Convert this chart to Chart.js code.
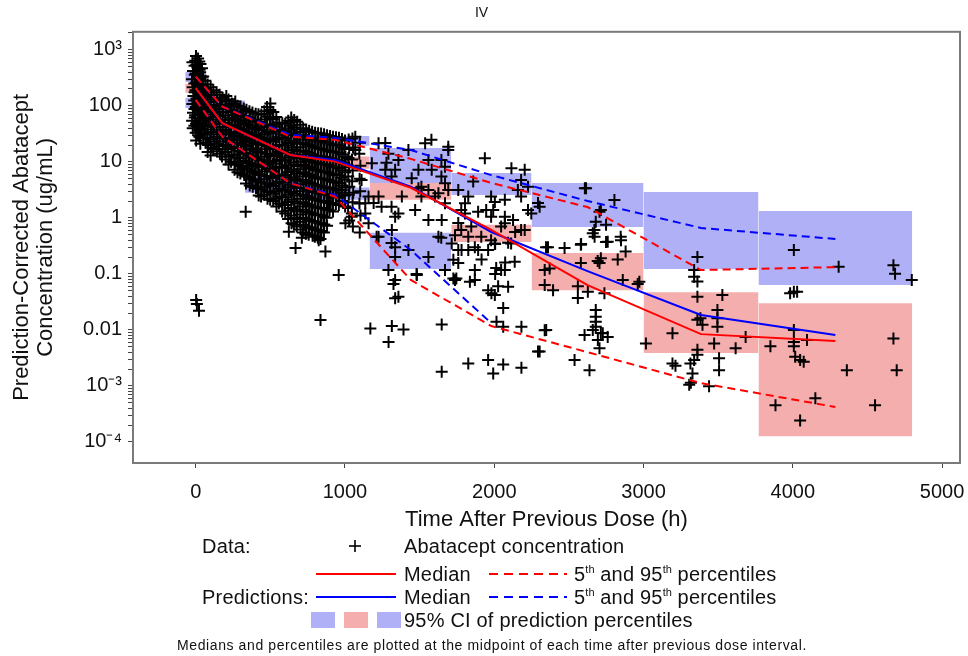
<!DOCTYPE html>
<html>
<head>
<meta charset="utf-8">
<script src="https://cdn.jsdelivr.net/npm/chart.js@4.4.1/dist/chart.umd.min.js"></script>
<style>
  body { margin: 0; background: #fff; }
  #wrap { position: relative; width: 968px; height: 656px; font-family: "Liberation Sans", Arial, sans-serif; color: #111; }
  #chart { position: absolute; left: 0; top: 0; }
  .lg { position: absolute; font-size: 20px; line-height: 22px; white-space: nowrap; letter-spacing: 0.2px; }
  .lg sup { font-size: 11px; line-height: 0; vertical-align: 8px; letter-spacing: 0; }
  .note { position: absolute; font-size: 14px; line-height: 16px; white-space: nowrap; letter-spacing: 0.6px; }
  .sw { position: absolute; width: 24px; height: 16px; }
  svg.key { position: absolute; overflow: visible; }
</style>
</head>
<body>
<div id="wrap">
  <canvas id="chart" width="968" height="656"></canvas>

  <!-- legend -->
  <div class="lg" style="left:202px; top:535px;">Data:</div>
  <svg class="key" style="left:349px; top:540px;" width="12" height="12">
    <line x1="6" y1="0" x2="6" y2="12" stroke="#000" stroke-width="1.6"/>
    <line x1="0" y1="6" x2="12" y2="6" stroke="#000" stroke-width="1.6"/>
  </svg>
  <div class="lg" style="left:404px; top:535px;">Abatacept concentration</div>

  <svg class="key" style="left:316px; top:573px;" width="80" height="2">
    <line x1="0" y1="1" x2="80" y2="1" stroke="#ff0000" stroke-width="2"/>
  </svg>
  <div class="lg" style="left:404px; top:563px;">Median</div>
  <svg class="key" style="left:489px; top:573px;" width="78" height="2">
    <line x1="0" y1="1" x2="78" y2="1" stroke="#ff0000" stroke-width="2" stroke-dasharray="9,6"/>
  </svg>
  <div class="lg" style="left:574px; top:563px;">5<sup>th</sup> and 95<sup>th</sup> percentiles</div>

  <div class="lg" style="left:202px; top:586px;">Predictions:</div>
  <svg class="key" style="left:316px; top:596px;" width="80" height="2">
    <line x1="0" y1="1" x2="80" y2="1" stroke="#0000ff" stroke-width="2"/>
  </svg>
  <div class="lg" style="left:404px; top:586px;">Median</div>
  <svg class="key" style="left:489px; top:596px;" width="78" height="2">
    <line x1="0" y1="1" x2="78" y2="1" stroke="#0000ff" stroke-width="2" stroke-dasharray="9,6"/>
  </svg>
  <div class="lg" style="left:574px; top:586px;">5<sup>th</sup> and 95<sup>th</sup> percentiles</div>

  <div class="sw" style="left:311px; top:612px; background:#b0b0f6;"></div>
  <div class="sw" style="left:344px; top:612px; background:#f5aeae;"></div>
  <div class="sw" style="left:377px; top:612px; background:#b0b0f6;"></div>
  <div class="lg" style="left:404px; top:609px;">95% CI of prediction percentiles</div>

  <div class="note" style="left:177px; top:637px;">Medians and percentiles are plotted at the midpoint of each time after previous dose interval.</div>
</div>

<script>
// axis ticks
const xTicks = [0, 1000, 2000, 3000, 4000, 5000];
const yMajor = [1e-4, 1e-3, 0.01, 0.1, 1, 10, 100, 1000];
const yLabels = ['10⁻⁴', '10⁻³', '0.01', '0.1', '1', '10', '100', '10³'];
const yMinorMult = [2, 3, 4, 5, 6, 7, 8, 9];

// midpoints of the time-after-dose bins (h)
const binMid = [0, 178, 634, 934, 1441, 1980, 2625, 3385, 4285];
const obsMedian = [207, 49, 13.3, 10.1, 3.45, 0.61, 0.063, 0.0084, 0.0063];
const obsP95 = [333, 97, 28.2, 24.7, 11.3, 4.2, 1.56, 0.117, 0.132];
const obsP05 = [128, 28.2, 4.15, 2.39, 0.078, 0.0117, 0.004, 0.00112, 0.00042];
const predMedian = [207, 49, 13.3, 10.8, 3.6, 0.56, 0.112, 0.0184, 0.0081];
const predP95 = [333, 97, 30.3, 26.8, 16.3, 5.8, 2.0, 0.66, 0.42];
const predP05 = [128, 28.2, 4.15, 2.56, 0.267, 0.0132, null, null, null];

// bins and 95% CI of predicted percentiles
const binStart = [-70, 70, 330, 700, 1165, 1712, 2250, 3000, 3770];
const binEnd = [70, 330, 700, 1165, 1712, 2250, 3000, 3770, 4800];
const ci95Lo = [268, 75, 22, 19.3, 4.2, 2.56, 0.69, 0.122, 0.063];
const ci95Hi = [405, 125, 36, 29, 17.7, 6.3, 4.2, 2.9, 1.33];
const ciMedLo = [171, 40, 10, 7.5, 2.1, 0.37, 0.051, 0.00385, 0.000126];
const ciMedHi = [247, 60, 16, 12.5, 4.2, 0.75, 0.236, 0.047, 0.030];
const ci05Lo = [92, 20, 2.8, 2.1, 0.122, null, null, null, null];
const ci05Hi = [139, 36, 5.5, 3.5, 0.54, null, null, null, null];

// observed concentrations [time (h), ug/mL]
const obsEarly = [
  [-22,600],[-18,420],[-25,300],[-20,215],[-15,150],[-22,108],[-18,75],[-24,54],[-20,40],
  [2,780],[-3,640],[4,540],[0,380],[3,262],[-2,190],[5,135],[1,95],[-4,68],[2,48],[0,33],[3,24],
  [16,700],[14,470],[18,330],[12,235],[17,168],[15,118],[13,84],[18,60],[14,43],[16,30],
  [32,560],[30,400],[34,282],[28,200],[33,142],[30,100],[35,70],[29,50],[32,36],[31,21],
  [50,335],[48,240],[52,172],[47,122],[51,88],[49,62],[53,45],[50,27],
  [3,0.034],[22,0.022],[8,0.029],
  [80,240],[84,176],[78,130],[82,95],[79,70],[85,52],[81,38],[77,27],[83,20],[80,15],
  [118,190],[122,140],[120,104],[125,77],[116,57],[121,42],[119,31],[124,23],[117,17],
  [160,158],[163,121],[157,88],[162,65],[158,48],[164,35],[161,26],[156,19],[162,14],
  [205,150],[198,122],[203,92],[200,68],[196,50],[204,37],[199,27],[202,20],[197,15],[201,11],
  [242,110],[238,84],[244,62],[240,46],[236,34],[243,25],[239,18.5],[241,13.5],[237,10],
  [265,120],[280,100],[276,75],[283,55],[279,41],[281,30],[277,22],[284,16],[278,12],[282,9],[280,6.5],
  [322,90],[318,66],[324,49],[320,36],[316,27],[323,20],[319,14.5],[321,10.5],[317,7.8],[325,5.8],
  [360,80],[364,60],[357,44],[362,32],[358,24],[365,17.5],[361,13],[356,9.5],[363,7],[359,5.2],[362,3.8],
  [402,72],[398,53],[404,39],[397,29],[401,21],[405,15.5],[399,11.5],[403,8.5],[396,6.2],[400,4.6],[404,3.4],
  [440,70],[436,50],[443,37],[438,27],[442,20],[437,14.5],[441,10.7],[444,7.9],[439,5.8],[435,4.3],[442,3.2],[438,2.4],
  [478,95],[482,72],[480,64],[476,47],[483,35],[479,26],[481,19],[477,14],[484,10.3],[480,7.6],[478,5.6],[482,4.1],[479,3.0],[481,2.2],
  [500,110],[520,78],[516,58],[523,43],[519,32],[521,23],[517,17],[524,12.6],[518,9.3],[522,6.9],[515,5.1],[520,3.7],[523,2.7],[519,2.0],
  [560,50],[564,37],[557,27.5],[562,20],[558,15],[565,11],[561,8.2],[556,6],[563,4.4],[559,3.3],[562,2.4],[557,1.8],
  [600,48],[596,36],[603,26],[598,19.5],[602,14.5],[597,10.5],[604,7.8],[599,5.8],[601,4.3],[595,3.1],[603,2.3],[598,1.7],[600,1.2],
  [640,62],[644,52],[637,44],[642,33],[638,24],[645,18],[641,13],[636,9.7],[643,7.2],[639,5.3],[641,3.9],[637,2.9],[644,2.1],[640,1.5],[638,1.1],[642,0.8],
  [680,52],[676,38],[683,28],[679,21],[681,15.5],[677,11.5],[684,8.4],[678,6.2],[682,4.6],[675,3.4],[680,2.5],[683,1.8],[679,1.3],[681,0.95],[677,0.7],
  [720,40],[724,30],[717,22],[722,16],[718,12],[725,8.8],[721,6.5],[716,4.8],[723,3.5],[719,2.6],[722,1.9],[717,1.4],[720,1.0],[724,0.75],[718,0.55],
  [760,36],[756,27],[763,20],[758,14.5],[762,10.7],[757,7.9],[764,5.8],[759,4.3],[761,3.2],[755,2.3],[760,1.7],[763,1.25],[758,0.92],[762,0.68],[757,0.5],
  [800,33],[804,24],[797,18],[802,13],[798,9.7],[805,7.2],[801,5.3],[796,3.9],[803,2.9],[799,2.1],[802,1.55],[797,1.15],[800,0.85],[804,0.62],[798,0.46],
  [840,32],[836,23.5],[843,17],[838,12.5],[842,9.3],[837,6.8],[844,5],[839,3.7],[841,2.7],[835,2.0],[840,1.5],[843,1.1],[838,0.8],[842,0.58],[836,0.42],
  [880,30],[884,22],[877,16],[882,12],[878,8.9],[885,6.5],[881,4.8],[876,3.5],[883,2.6],[879,1.9],[882,1.4],[877,1.0],[880,0.72],
  [920,28],[916,20.5],[923,15],[918,11],[922,8.2],[917,6],[924,4.4],[919,3.3],[921,2.4],[915,1.8],[920,1.3],
  [960,27],[964,19.5],[957,14.5],[962,10.5],[958,7.8],[965,5.7],[961,4.2],[956,3.1],[963,2.3],[959,1.7],
  [1000,24],[996,17],[1003,12.5],[998,9],[1002,6.5],[997,4.8],[1004,3.5],[999,2.5],[1001,1.6],
  [1050,26],[1054,18],[1047,11],[1052,7],[1048,4.5],[1055,2.8],[1051,1.9],[1046,1.2],[1053,0.7],
  [1100,22],[1096,14],[1103,8.5],[1098,5],[1102,3],[1097,1.8],[1104,1.1],[1099,0.55],
  [335,1.29],[624,0.566],[736,0.53],[669,0.29],[711,0.44],[824,0.40],[869,0.25],[836,0.015],[958,0.095]
];

// second pass through the dense early cloud
const obsEarlyFill = [
  [-8,520],[-6,360],[-9,250],[-7,175],[-10,125],[-8,88],[-6,62],[-9,44],
  [24,620],[26,440],[23,305],[25,215],[22,152],[24,108],[26,77],[23,55],[25,40],[24,28],
  [42,470],[44,330],[41,230],[43,160],[40,112],[42,80],[44,56],[41,39],
  [65,280],[67,205],[63,150],[66,108],[64,80],[68,58],[65,43],[62,31],[66,22],
  [100,215],[103,158],[98,117],[102,86],[99,63],[104,47],[101,34],[97,25],[102,18],[100,13],
  [140,175],[143,130],[138,96],[142,71],[137,52],[141,38],[144,28],[139,21],[142,15.5],
  [180,140],[177,105],[183,78],[179,57],[182,42],[178,31],[184,23],[181,17],[176,12.5],
  [220,130],[223,100],[218,76],[222,56],[219,42],[224,31],[221,23],[217,17],[222,12.5],[220,9],
  [260,108],[257,80],[263,59],[259,44],[262,32],[256,24],[261,17.5],[258,13],[263,9.5],[260,7.2],
  [300,96],[303,70],[298,52],[302,38.5],[297,28.5],[304,21],[301,15.5],[296,11.5],[303,8.4],[299,6.2],
  [340,85],[337,63],[343,46],[339,34],[342,25.5],[336,19],[341,14],[338,10.2],[344,7.5],[340,5.5],[337,4.1],
  [380,76],[383,56],[378,41.5],[382,30.5],[377,22.5],[384,16.5],[381,12.2],[376,9],[383,6.6],[379,4.9],[382,3.6],
  [420,71],[417,52],[423,38],[419,28],[422,20.5],[416,15],[421,11],[418,8.2],[424,6],[420,4.45],[417,3.3],[422,2.5],
  [460,80],[463,57],[458,42],[462,31],[457,23],[464,16.8],[461,12.4],[456,9.1],[463,6.7],[459,4.9],[462,3.6],[458,2.6],
  [500,84],[497,61],[503,45],[499,33.5],[502,24.5],[496,18],[501,13.3],[498,9.8],[504,7.2],[500,5.3],[497,3.9],[502,2.85],[499,2.1],
  [540,63],[543,47],[538,35],[542,25.5],[537,19],[544,14],[541,10.3],[536,7.6],[543,5.6],[539,4.1],[542,3.0],[538,2.2],[541,1.6],
  [580,49],[577,36.5],[583,26.8],[579,19.8],[582,14.7],[576,10.8],[581,8],[578,5.9],[584,4.35],[580,3.2],[577,2.35],[582,1.75],[579,1.3],
  [620,54],[623,40],[618,29.5],[622,21.8],[617,16.2],[624,11.8],[621,8.7],[616,6.5],[623,4.8],[619,3.5],[622,2.6],[618,1.9],[621,1.35],[619,0.95],
  [660,56],[657,41],[663,30.5],[659,22.5],[662,16.7],[656,12.2],[661,9],[658,6.7],[664,4.9],[660,3.6],[657,2.7],[662,1.95],[659,1.4],[661,1.0],[658,0.75],
  [700,46],[703,34],[698,25],[702,18.3],[697,13.6],[704,10],[701,7.4],[696,5.5],[703,4],[699,3],[702,2.2],[698,1.6],[701,1.15],[699,0.85],[703,0.62],
  [740,38],[737,28.5],[743,21],[739,15.2],[742,11.3],[736,8.3],[741,6.1],[738,4.5],[744,3.3],[740,2.45],[737,1.8],[742,1.3],[739,0.96],[741,0.71],[738,0.52],
  [780,34.5],[783,25.5],[778,19],[782,13.7],[777,10.2],[784,7.5],[781,5.5],[776,4.1],[783,3],[779,2.2],[782,1.6],[778,1.2],[781,0.88],[779,0.65],[783,0.48],
  [820,32.5],[817,23.7],[823,17.5],[819,12.7],[822,9.5],[816,7],[821,5.1],[818,3.8],[824,2.8],[820,2.05],[817,1.52],[822,1.12],[819,0.82],[821,0.6],[818,0.44],
  [860,31],[863,22.7],[858,16.5],[862,12.2],[857,9.1],[864,6.6],[861,4.9],[856,3.6],[863,2.65],[859,1.95],[862,1.45],[858,1.05],[861,0.76],[859,0.55],
  [900,29],[897,21.2],[903,15.5],[899,11.5],[902,8.5],[896,6.2],[901,4.6],[898,3.4],[904,2.5],[900,1.85],[897,1.35],
  [940,27.5],[943,20],[938,14.7],[942,10.7],[937,8],[944,5.8],[941,4.3],[936,3.2],[943,2.35],[939,1.75],
  [980,25.5],[977,18.2],[983,13.5],[979,9.7],[982,7.1],[976,5.2],[981,3.8],[978,2.8],[984,2.0],
  [1025,25],[1028,17.5],[1023,11.7],[1027,8],[1022,5.5],[1029,3.6],[1026,2.6],[1021,1.5],[1028,0.9]
];

const obsMid = [
  [1937,11.6],[2115,7.7],[2226,3.6],[2180,2.4],[1692,18.7],[1646,10.8],[1579,24.7],[1270,21.8],[1278,9.6],
  [1336,7.2],[1312,5.5],[1225,2.4],[1192,1.85],[1245,1.58],[1312,1.58],[1336,1.05],[1492,7.2],[1512,3.6],
  [1559,3.15],[1512,2.4],[1646,5.5],[1670,4.15],[1692,3.15],[1603,2.4],[1670,1.82],[1804,1.82],[1779,1.38],
  [1759,0.81],[1846,0.70],[1779,0.61],[1913,0.46],[1979,1.05],[2071,0.80],[2180,0.61],[2226,1.38],[2093,0.36],
  [1946,1.38],[1111,4.75],[1158,2.4],[1136,1.82],[1045,1.05],[1003,0.80],[891,1.85],[978,3.15],[1069,28],[1069,16.3],
  [2180,4.75],[2304,1.58],[1859,4.44],[1979,2.4],[1993,1.38],[2071,1.05],[2046,0.70],[2126,0.92],[2004,1.92],[1892,1.29],
  [1225,0.46],[1291,0.117],[1358,0.039],[1480,0.10],[1626,0.46],[1715,0.35],[1826,0.46],[1870,0.30],[1781,0.267],
  [1759,0.156],[1915,0.18],[2004,0.35],[2071,0.117],[2026,0.06],[1981,0.045],[1870,0.078],[1737,0.078],[1670,0.117],
  [1559,0.2],[1425,0.267],[1314,0.61],[1158,0.8],[1136,1.2],[1358,1.2],[1470,1.38],[1559,0.92],[1648,0.92],
  [1626,2.75],[1492,3.38],[1381,2.4],[1447,5.1],[1581,7.2],[1559,10.8],[1670,8.2],[1692,16.3],[1537,21.5],
  [1425,16.3],[1358,10.8],[1291,14],[1225,21.5],[1180,9.4],[1270,7.2],
  [2204,0.61],[2248,1.2],[2158,3.15],[2071,2.1],[2204,7.2],[1759,3.15],[1826,2.4],[1804,1.2],
  [1170,0.0106],[1314,0.0117],[1392,0.0102],[1292,0.0061],[1648,0.0125],[1648,0.00178],[1826,0.0025],
  [1959,0.0029],[1993,0.00167],[2060,0.0024],[2182,0.0021],[2015,0.014],[2060,0.0114],[2182,0.0114],
  [2293,0.0041],[2338,0.0099],[2060,0.0245],[2004,0.042],[1959,0.051],[2093,0.059],[1870,0.117],[1837,0.072],
  [1726,0.083],[2013,0.127],[2046,0.117],[2006,0.10],[2137,0.165],[2073,0.16],[1336,0.078],[1325,0.066],
  [1336,0.0366],[1481,0.095],[1212,0.46],[1312,0.356],[1336,0.2],[1336,0.3],[1645,0.44],[1737,0.49],
  [1759,0.267],[1826,0.267],[1892,0.267],[1959,0.267],[1979,0.40],[2006,0.34],[1726,0.178],[1746,0.083],
  [2113,0.35],[2140,0.56]
];

const obsLate = [
  [2615,3.38],[2805,2.09],[2714,1.38],[2680,0.855],[2671,0.61],[2607,3.38],[2705,1.29],[2749,0.75],[2660,0.53],
  [2293,1.85],[2360,0.30],[2471,0.29],[2582,0.34],[2693,0.17],[2749,0.37],[2849,0.40],[2371,0.125],[2827,0.18],
  [2338,0.063],[2560,0.060],[2627,0.048],[2961,0.066],
  [2347,0.30],[2580,0.33],[2672,0.46],[2760,0.375],[2847,0.46],[2880,0.25],[2338,0.117],[2580,0.156],
  [2714,0.19],[2705,0.156],[2394,0.051],[2560,0.037],[2738,0.045],[2861,0.0776],[2972,0.072],
  [2680,0.0226],[2680,0.0172],[2680,0.014],[2680,0.0114],[2660,0.0100],[2714,0.0088],[2694,0.0066],[2705,0.0047],
  [2605,0.0081],[2348,0.0100],[2304,0.0041],[2538,0.0029],[2638,0.0019],[2727,0.0087],[2760,0.0075],[3016,0.0057],
  [3194,0.0087],[3194,0.0025],[3214,0.0023],[3314,0.0025],[3339,0.0029],[3328,0.00167],[3317,0.00114],
  [3361,0.2],[3339,0.117],[3339,0.089],[3361,0.073],[3361,0.039],[3361,0.0151],[3395,0.0123],[3361,0.0044],
  [3361,0.0036],[3381,0.0162],[3495,0.0226],[3495,0.0162],[3495,0.0114],[3528,0.042],[3473,0.0057],[3506,0.0031],
  [3506,0.0019],[3439,0.00099],[3306,0.00105],[3617,0.0047],[3684,0.0075],[3850,0.0051],[3884,0.00045],
  [4049,0.00024],[4007,0.267],[4007,0.048],[3982,0.045],[4029,0.048],[4007,0.0100],[4007,0.0061],[4016,0.0033],
  [4049,0.0029],[4073,0.0027],[4095,0.0066],[4007,0.0051],[4151,0.0006],[4307,0.134],[4362,0.0019],
  [4551,0.00045],[4674,0.142],[4685,0.101],[4674,0.007],[4696,0.0019],[4797,0.078]
];

const toXY = arr => arr.map(([t, c]) => ({ x: t, y: c }));
const linePts = vals => binMid.map((t, i) => ({ x: t, y: vals[i] })).filter(p => p.y != null);

function lineSet(vals, color, dashed, order) {
  return {
    type: 'line',
    data: linePts(vals),
    borderColor: color,
    borderWidth: 2,
    borderDash: dashed ? [8, 5] : [],
    pointRadius: 0,
    fill: false,
    tension: 0,
    order: order
  };
}

// CI rectangles: a flat line at the upper bound filled down to the lower bound
const boxSets = [];
function addBoxes(lo, hi, color) {
  binStart.forEach((t0, i) => {
    if (lo[i] == null) return;
    boxSets.push({
      type: 'line',
      data: [{ x: t0, y: hi[i] }, { x: binEnd[i], y: hi[i] }],
      borderWidth: 0,
      borderColor: 'rgba(0,0,0,0)',
      backgroundColor: color,
      pointRadius: 0,
      fill: { value: lo[i] },
      order: 4
    });
  });
}
addBoxes(ci95Lo, ci95Hi, '#b0b0f6');
addBoxes(ci05Lo, ci05Hi, '#b0b0f6');
addBoxes(ciMedLo, ciMedHi, '#f5aeae');

// box around the plot area
const frame = {
  id: 'frame',
  afterDraw(chart) {
    const { ctx, chartArea: a } = chart;
    ctx.save();
    ctx.strokeStyle = '#7a7a7a';
    ctx.lineWidth = 2;
    ctx.strokeRect(a.left, a.top, a.right - a.left, a.bottom - a.top);
    ctx.restore();
  }
};

const font = { family: '"Liberation Sans", Arial, sans-serif' };

new Chart(document.getElementById('chart'), {
  type: 'scatter',
  data: {
    datasets: [
      lineSet(obsMedian, '#ff0000', false, 0),
      lineSet(obsP95, '#ff0000', true, 0),
      lineSet(obsP05, '#ff0000', true, 0),
      lineSet(predMedian, '#0000ff', false, 1),
      lineSet(predP95, '#0000ff', true, 1),
      lineSet(predP05, '#0000ff', true, 1),
      {
        type: 'scatter',
        data: toXY(obsEarly.concat(obsEarlyFill, obsMid, obsLate)),
        pointStyle: 'cross',
        pointRadius: 6,
        borderColor: '#000',
        borderWidth: 2,
        order: 2
      },
      ...boxSets
    ]
  },
  options: {
    responsive: false,
    animation: false,
    layout: { padding: { left: 0, right: 5, top: 0, bottom: 123 } },
    plugins: {
      legend: { display: false },
      tooltip: { enabled: false },
      title: {
        display: true,
        text: 'IV',
        color: '#111',
        font: { ...font, size: 14, weight: 'normal', lineHeight: 1.2 },
        padding: { top: 5, bottom: 10 }
      }
    },
    scales: {
      x: {
        type: 'linear',
        min: -420,
        max: 5120,
        afterBuildTicks: s => { s.ticks = xTicks.map(v => ({ value: v })); },
        afterFit: s => { s.height = 70; s.paddingLeft = 0; s.paddingRight = 0; },
        ticks: {
          color: '#111',
          font: { ...font, size: 20 },
          padding: 12,
          maxRotation: 0,
          autoSkip: false,
          callback: v => String(v)
        },
        grid: { drawOnChartArea: false, drawTicks: true, tickLength: 5, tickColor: '#444' },
        border: { display: true, color: '#7a7a7a', width: 2 },
        title: {
          display: true,
          text: 'Time After Previous Dose (h)',
          color: '#111',
          font: { ...font, size: 22, lineHeight: 1.1 },
          padding: { top: 0, bottom: 1 }
        }
      },
      y: {
        type: 'logarithmic',
        min: 4.2e-5,
        max: 2100,
        afterBuildTicks: s => {
          const t = yMajor.map(v => ({ value: v, major: true }));
          yMajor.forEach(d => yMinorMult.forEach(m => {
            const v = d * m;
            if (v >= 4.2e-5 && v <= 2100) t.push({ value: v, major: false });
          }));
          s.ticks = t;
        },
        afterFit: s => { s.width = 133; },
        ticks: {
          color: '#111',
          font: { ...font, size: 20 },
          padding: 6,
          autoSkip: false,
          callback: (v, i, ticks) => {
            if (!ticks[i].major) return '';
            const k = yMajor.findIndex(m => Math.abs(Math.log10(m) - Math.log10(v)) < 1e-6);
            return k >= 0 ? yLabels[k] : '';
          }
        },
        grid: { drawOnChartArea: false, drawTicks: true, tickLength: 5, tickColor: '#444' },
        border: { display: true, color: '#7a7a7a', width: 2 },
        title: {
          display: true,
          text: ['Prediction-Corrected Abatacept', 'Concentration (ug/mL)'],
          color: '#111',
          font: { ...font, size: 22, lineHeight: 1.1 },
          padding: { top: 10, bottom: 0 }
        }
      }
    }
  },
  plugins: [frame]
});
</script>
</body>
</html>
